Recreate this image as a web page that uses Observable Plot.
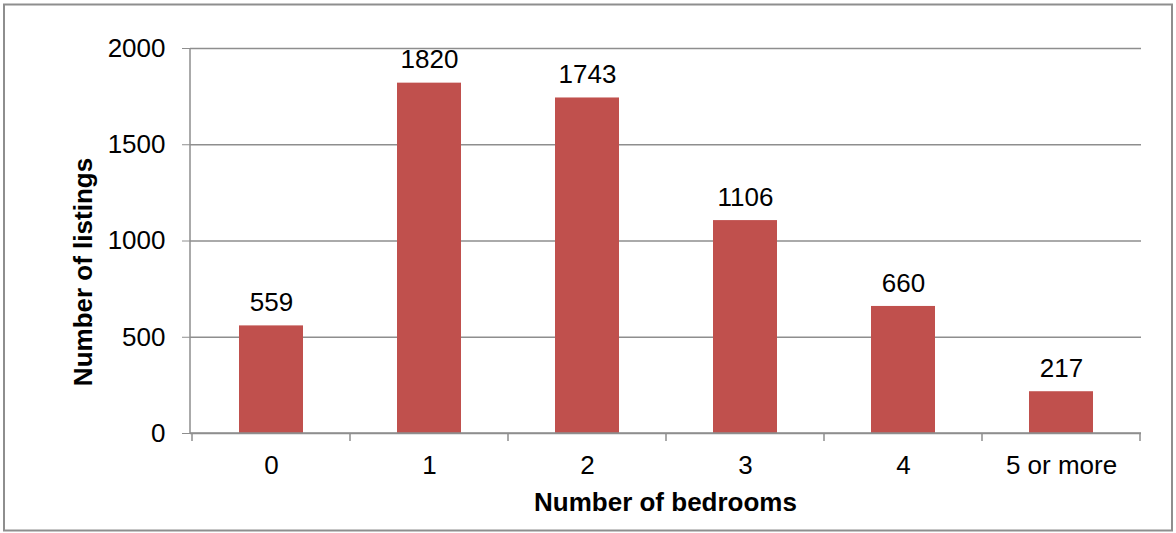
<!DOCTYPE html>
<html>
<head>
<meta charset="utf-8">
<script src="https://cdn.jsdelivr.net/npm/d3@7"></script>
<script src="https://cdn.jsdelivr.net/npm/@observablehq/plot@0.6"></script>
<style>
  html, body { margin: 0; padding: 0; background: #fff; }
  #chart svg { display: block; }
</style>
</head>
<body>
<div id="chart"></div>
<script>
const categories = ["0", "1", "2", "3", "4", "5 or more"];
const listings = [559, 1820, 1743, 1106, 660, 217];
const yTicks = [0, 500, 1000, 1500, 2000];
const xTitle = "Number of bedrooms";
const yTitle = "Number of listings";

const data = categories.map((c, i) => ({bedrooms: c, listings: listings[i]}));

const gridColor = "#8e8e8e";
const font = "'Liberation Sans', Arial, sans-serif";

function frameAndAxes(index, scales, values, dims) {
  const g = d3.create("svg:g");
  const {width, height, marginLeft, marginRight, marginTop, marginBottom} = dims;
  const left = marginLeft, right = width - marginRight;
  const bottom = height - marginBottom, top = marginTop;
  const x = scales.x;
  const step = x.step ? x.step() : (right - left) / categories.length;
  const bw = x.bandwidth ? x.bandwidth() : 0;
  // outer border
  g.append("rect")
    .attr("x", 4).attr("y", 4.5).attr("width", width - 8).attr("height", height - 7)
    .attr("fill", "none").attr("stroke", gridColor).attr("stroke-width", 2);
  // y axis line
  g.append("line").attr("x1", left).attr("x2", left).attr("y1", top).attr("y2", bottom)
    .attr("stroke", gridColor).attr("stroke-width", 1.5);
  // x axis line
  g.append("line").attr("x1", left).attr("x2", right).attr("y1", bottom).attr("y2", bottom)
    .attr("stroke", gridColor).attr("stroke-width", 1.5);
  // category boundary ticks
  const bounds = categories.map(c => x(c) - (step - bw) / 2);
  bounds.push(x(categories[categories.length - 1]) + bw + (step - bw) / 2);
  for (const b of bounds) {
    g.append("line").attr("x1", b).attr("x2", b).attr("y1", bottom).attr("y2", bottom + 8)
      .attr("stroke", gridColor).attr("stroke-width", 1.5);
  }
  // titles
  g.append("text").attr("x", (left + right) / 2).attr("y", 511)
    .attr("text-anchor", "middle").attr("font-weight", "bold").attr("font-size", 26)
    .attr("font-family", font).attr("fill", "#000").text(xTitle);
  g.append("text").attr("transform", `translate(92,272) rotate(-90)`)
    .attr("text-anchor", "middle").attr("font-weight", "bold").attr("font-size", 26)
    .attr("font-family", font).attr("fill", "#000").text(yTitle);
  return g.node();
}

const chart = Plot.plot({
  width: 1176,
  height: 533,
  marginLeft: 190,
  marginRight: 35,
  marginTop: 48,
  marginBottom: 100,
  style: {fontFamily: font, fontSize: "26px", color: "#000", background: "#fff"},
  x: {domain: categories, paddingInner: 0.595, paddingOuter: 0.2975, label: null},
  y: {domain: [0, 2000], label: null},
  marks: [
    Plot.gridY(yTicks, {stroke: gridColor, strokeOpacity: 1, strokeWidth: 1.5}),
    Plot.barY(data, {x: "bedrooms", y: "listings", fill: "#C0504D"}),
    Plot.axisY(yTicks, {tickSize: 8, tickPadding: 17, tickFormat: d => String(d), stroke: gridColor, fill: "#000", label: null, fontSize: 26}),
    Plot.axisX({tickSize: 0, tickPadding: 22, fill: "#000", label: null, fontSize: 26}),
    Plot.text(data, {x: "bedrooms", y: "listings", text: d => String(d.listings), dy: -23, lineAnchor: "middle", fill: "#000", fontSize: 26}),
    frameAndAxes
  ]
});
document.getElementById("chart").append(chart);
</script>
</body>
</html>
